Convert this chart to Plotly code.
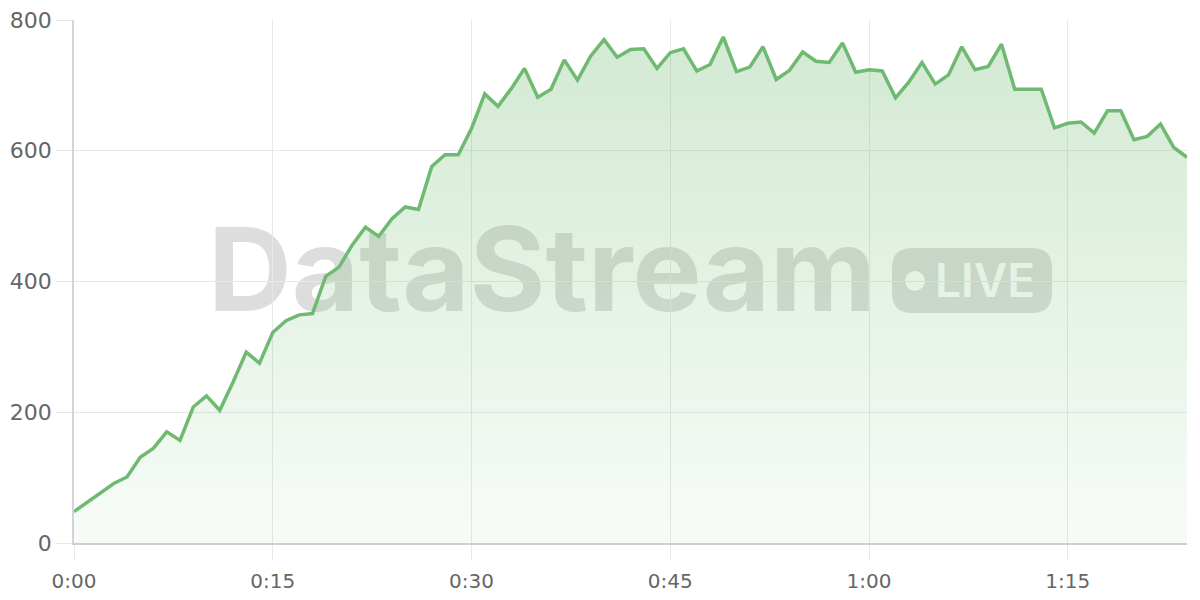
import plotly.graph_objects as go

# ---- data ----
minutes = list(range(85))
values = [48, 62, 76, 91, 101, 131, 145, 170, 157, 208,
          225, 203, 246, 292, 275, 322, 340, 349, 351, 408,
          422, 456, 483, 469, 496, 514, 510, 576, 594, 594,
          634, 687, 668, 695, 726, 682, 694, 739, 708, 745,
          770, 743, 755, 756, 726, 750, 756, 722, 732, 774,
          721, 728, 759, 709, 723, 751, 737, 735, 765, 720,
          724, 722, 681, 705, 735, 702, 716, 759, 724, 729,
          763, 694, 694, 694, 635, 642, 644, 627, 661, 661,
          617, 622, 641, 605, 590]
tick_vals = [0, 15, 30, 45, 60, 75]
tick_text = ["0:00", "0:15", "0:30", "0:45", "1:00", "1:15"]
y_ticks = [0, 200, 400, 600, 800]

LINE = "rgb(111,186,112)"
GRID = "#e8e8e8"
XFONT = dict(family="DejaVu Sans", size=20, color="#666666")
YFONT = dict(family="DejaVu Sans", size=22, color="#666666")
WM = "rgba(120,120,120,0.25)"

fig = go.Figure()
fig.add_trace(go.Scatter(
    x=minutes, y=values, mode="lines",
    line=dict(color=LINE, width=3.5),
    fill="tozeroy",
    fillgradient=dict(type="vertical", start=0, stop=800,
                      colorscale=[[0, "rgba(111,186,112,0.05)"],
                                  [1, "rgba(111,186,112,0.32)"]]),
    hoverinfo="skip",
))

# plot area geometry (pixels) for watermark placement
L, R, T, B = 74, 1187, 20, 543
W, H = R - L, B - T
def px(x):
    return (x - L) / W
def py(y):
    return (B - y) / H

shapes = []
# watermark text
shapes.append(dict(type="rect", xref="paper", yref="paper", layer="below",
                   x0=px(182), x1=px(902), y0=py(322), y1=py(207),
                   line=dict(width=0), fillcolor="rgba(0,0,0,0)",
                   label=dict(text="DataStream", textposition="middle center",
                              font=dict(family="Inter", size=116, color=WM, weight=700))))
# LIVE pill
x0, x1, y0, y1 = px(892), px(1052), py(313), py(248)
rx, ry = 20 / W, 20 / H
path = (f"M {x0+rx},{y0} L {x1-rx},{y0} Q {x1},{y0} {x1},{y0+ry} "
        f"L {x1},{y1-ry} Q {x1},{y1} {x1-rx},{y1} L {x0+rx},{y1} "
        f"Q {x0},{y1} {x0},{y1-ry} L {x0},{y0+ry} Q {x0},{y0} {x0+rx},{y0} Z")
shapes.append(dict(type="path", xref="paper", yref="paper", layer="below",
                   path=path, fillcolor=WM, line=dict(width=0)))
# dot
shapes.append(dict(type="circle", xref="paper", yref="paper", layer="below",
                   x0=px(905), x1=px(925), y0=py(291), y1=py(271),
                   fillcolor="white", line=dict(width=0)))
# LIVE text
shapes.append(dict(type="rect", xref="paper", yref="paper", layer="below",
                   x0=px(930), x1=px(1040), y0=py(298), y1=py(259),
                   line=dict(width=0), fillcolor="rgba(0,0,0,0)",
                   label=dict(text="LIVE", textposition="middle center",
                              font=dict(family="Inter", size=46, color="white", weight=600))))

fig.update_layout(
    width=1200, height=600,
    margin=dict(l=L, r=1200 - R, t=T, b=600 - B, autoexpand=False),
    paper_bgcolor="white", plot_bgcolor="white",
    showlegend=False,
    shapes=shapes,
    xaxis=dict(range=[0, 84], tickvals=tick_vals, ticktext=tick_text,
               showgrid=True, gridcolor=GRID, gridwidth=1,
               ticks="outside", ticklen=15, tickcolor=GRID,
               showline=True, linecolor="#cfcfcf", linewidth=2,
               zeroline=False, tickfont=XFONT, ticklabelstandoff=4,
               automargin=False),
    yaxis=dict(range=[0, 800], tickvals=y_ticks,
               showgrid=True, gridcolor=GRID, gridwidth=1,
               ticks="outside", ticklen=16, tickcolor=GRID,
               showline=True, linecolor="#d4d4d4", linewidth=1.5,
               zeroline=False, tickfont=YFONT, ticklabelstandoff=0,
               automargin=False),
)

fig.write_html("out.html", config={"displayModeBar": False},
               post_script="document.body.style.margin='0';document.body.style.overflow='hidden';")
